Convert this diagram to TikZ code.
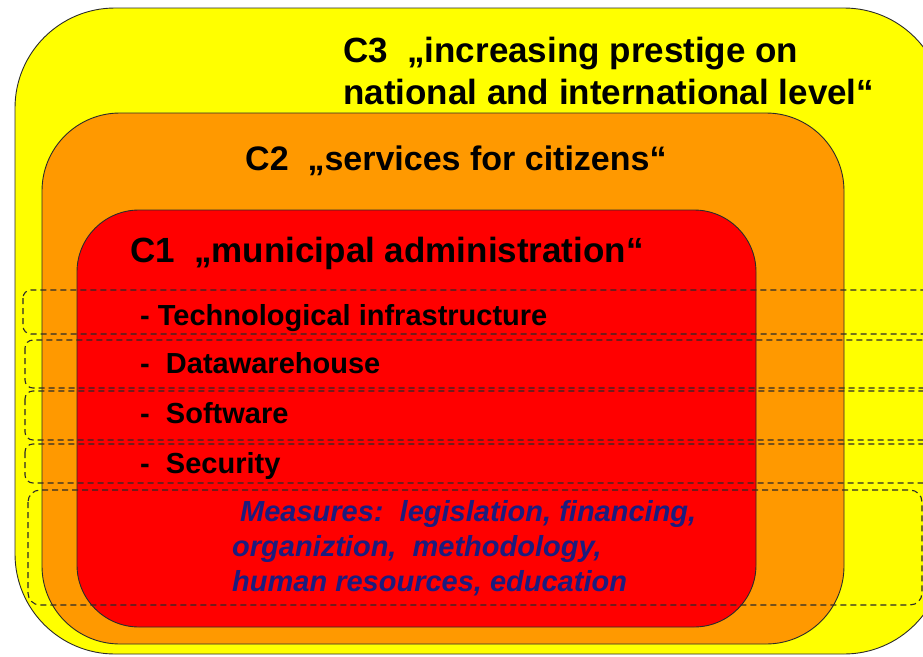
\documentclass[tikz,border=0pt]{standalone}
\usepackage{fontspec}
\setmainfont{Liberation Sans}
\definecolor{cthree}{HTML}{FFFF00}
\definecolor{ctwo}{HTML}{FF9900}
\definecolor{cone}{HTML}{FF0000}
\definecolor{measureblue}{HTML}{1C1C7E}
\definecolor{edgegray}{HTML}{2B2B2B}
\tikzset{
  zone/.style={draw=edgegray, line width=0.9pt},
  rowbox/.style={draw=edgegray, dash pattern=on 6pt off 4pt, line width=1.1pt, rounded corners=8pt},
  heading/.style={anchor=base west, inner sep=0pt, align=left, font=\fontsize{35}{42}\selectfont\bfseries},
  item/.style={anchor=base west, inner sep=0pt, font=\fontsize{29}{35}\selectfont\bfseries},
  measure/.style={anchor=base west, inner sep=0pt, align=left, text=measureblue, font=\fontsize{29}{35}\selectfont\bfseries\itshape},
}
\begin{document}
\begin{tikzpicture}[x=1pt,y=-1pt]
    \useasboundingbox (0,0) rectangle (923,656);
    \clip (0,0) rectangle (923,656);
    % the three nested levels
    \draw [zone, fill=cthree, rounded corners=100pt] (15,8) rectangle (944,654);
    \draw [zone, fill=ctwo, rounded corners=78pt] (42,113) rectangle (844,644);
    \draw [zone, fill=cone, rounded corners=62pt] (77,210) rectangle (756,627);
    % dashed rows
    \draw [rowbox] (23,290) rectangle (940,334);
    \draw [rowbox] (25,340) rectangle (940,388);
    \draw [rowbox] (25,391) rectangle (940,440);
    \draw [rowbox] (25,444) rectangle (940,483);
    \draw [rowbox, rounded corners=12pt] (28,490) rectangle (922,605);
    % labels (base = last line)
    \node [heading] (c3) at (343,104) {C3\ \ „increasing prestige on\\national and international level“};
    \node [heading, font=\fontsize{34}{42}\selectfont\bfseries] (c2) at (245,170) {C2\ \ „services for citizens“};
    \node [heading] (c1) at (130,262) {C1\ \ „municipal administration“};
    \node [item] (tech) at (140,325) {- Technological infrastructure};
    \node [item] (dwh) at (140,373) {-\ \ Datawarehouse};
    \node [item] (soft) at (140,423) {-\ \ Software};
    \node [item] (sec) at (140,473) {-\ \ Security};
    \node [measure] (meas) at (232,591) {\hspace*{8pt}Measures:\ \ legislation, financing,\\organiztion,\ \ methodology,\\human resources, education};
\end{tikzpicture}
\end{document}
